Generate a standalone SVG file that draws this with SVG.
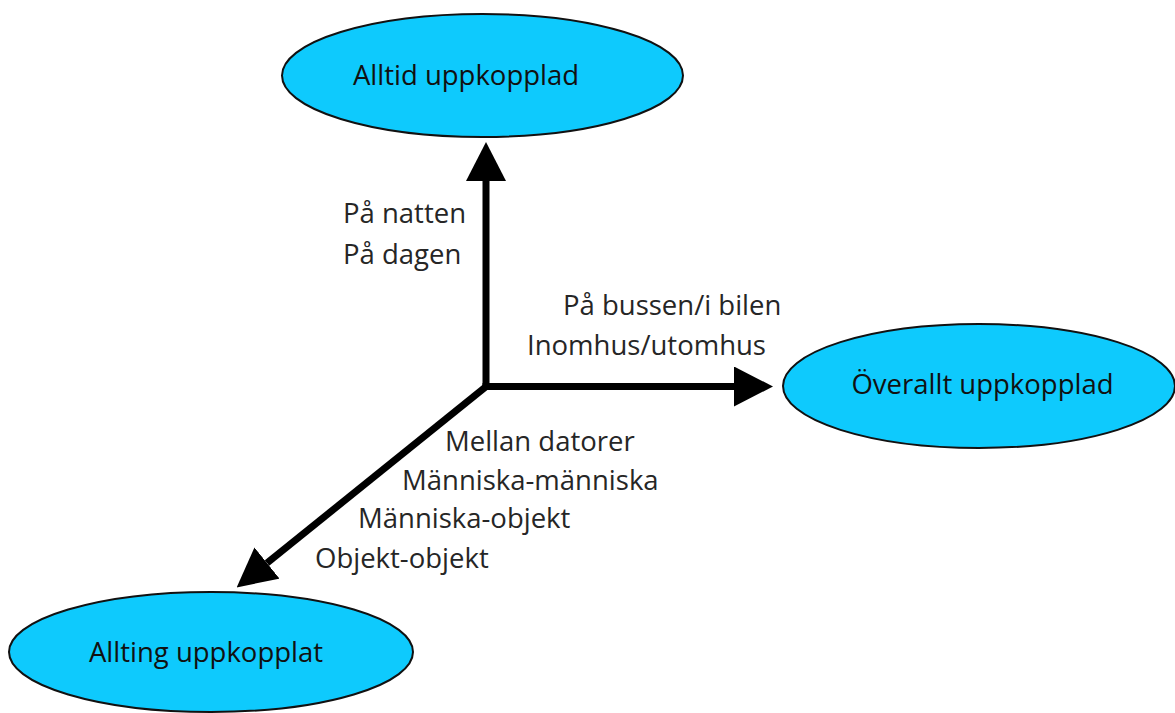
<svg xmlns="http://www.w3.org/2000/svg" width="1175" height="713" viewBox="0 0 1175 713">
  <style>
    .node ellipse { fill: #0ECAFD; stroke: #111; stroke-width: 2; }
    .node text { font-family: "Open Sans", "Liberation Sans", sans-serif; font-size: 27.5px; fill: #111; text-anchor: middle; }
    .axis { stroke: #000; stroke-width: 7; fill: none; marker-end: url(#head); }
    .label { font-family: "Open Sans", "Liberation Sans", sans-serif; font-size: 27.5px; fill: #262626; }
  </style>
  <defs>
    <marker id="head" markerUnits="userSpaceOnUse" viewBox="0 0 39 40" markerWidth="39" markerHeight="40" refX="0" refY="20" orient="auto">
      <path d="M0,0 L39,20 L0,40 Z" fill="#000"/>
    </marker>
  </defs>

  <rect width="1175" height="713" fill="#fff"/>

  <!-- connectors -->
  <g id="connectors">
    <path class="axis" d="M486,389.5 L486,181"/>
    <path class="axis" d="M482.5,386.5 L734,386.5"/>
    <path class="axis" d="M488,385 L267,563"/>
  </g>

  <!-- axis labels -->
  <g id="labels">
    <text class="label" x="343" y="223">På natten</text>
    <text class="label" x="343" y="264">På dagen</text>
    <text class="label" x="563" y="315">På bussen/i bilen</text>
    <text class="label" x="527" y="355">Inomhus/utomhus</text>
    <text class="label" x="445" y="451">Mellan datorer</text>
    <text class="label" x="402" y="490">Människa-människa</text>
    <text class="label" x="358" y="528">Människa-objekt</text>
    <text class="label" x="315" y="568">Objekt-objekt</text>
  </g>

  <!-- nodes -->
  <g id="alltid" class="node">
    <ellipse cx="482.5" cy="75.5" rx="200.5" ry="61.5"/>
    <text x="466" y="85">Alltid uppkopplad</text>
  </g>
  <g id="overallt" class="node">
    <ellipse cx="979" cy="386" rx="196" ry="62"/>
    <text x="982.5" y="394">Överallt uppkopplad</text>
  </g>
  <g id="allting" class="node">
    <ellipse cx="211" cy="652" rx="202" ry="60"/>
    <text x="206" y="662">Allting uppkopplat</text>
  </g>
</svg>
